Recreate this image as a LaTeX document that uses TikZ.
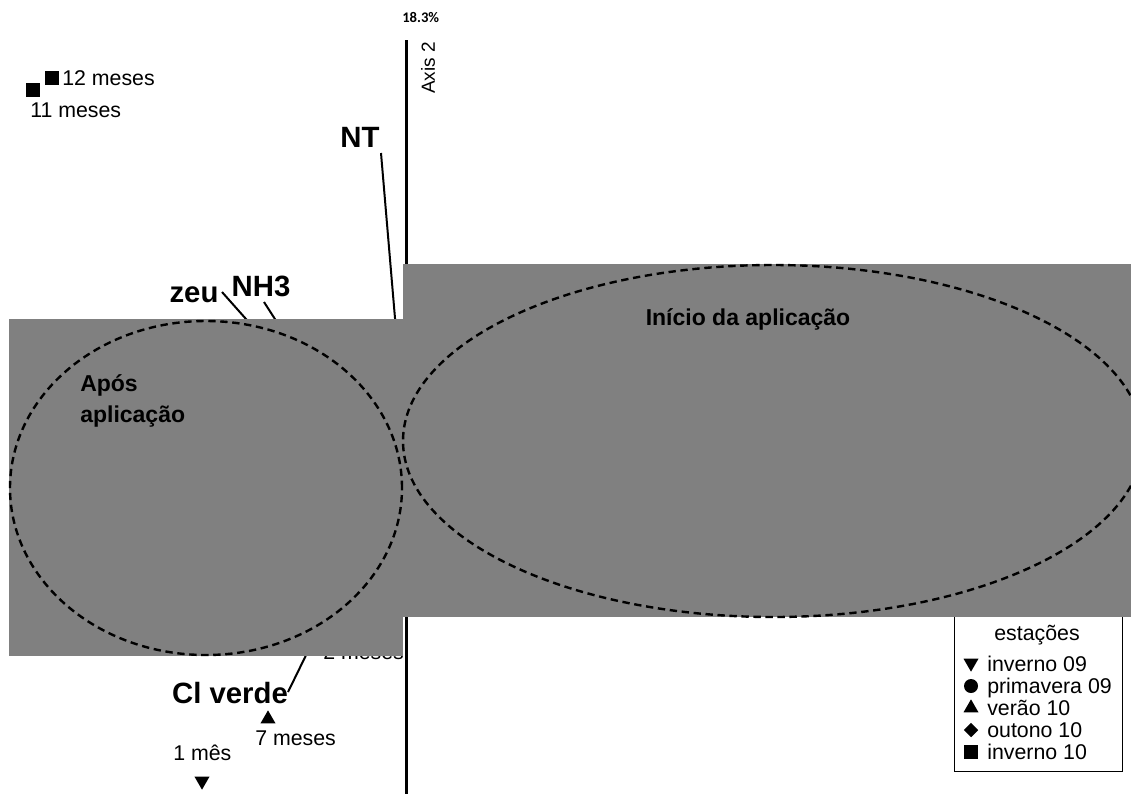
\documentclass[tikz,border=0pt]{standalone}
\usepackage{fontspec}
\setmainfont{Liberation Sans}
\newfontfamily\carl{Carlito}
\usetikzlibrary{shapes.geometric}
\definecolor{bg}{RGB}{128,128,128}
\begin{document}
\begin{tikzpicture}[x=0.75pt,y=-0.75pt,
 reg/.style={font=\fontsize{16}{18}\selectfont, inner sep=0pt},
 lbl/.style={font=\bfseries\fontsize{22}{26}\selectfont, inner sep=0pt},
 grp/.style={font=\bfseries\fontsize{17.25}{20}\selectfont, inner sep=0pt},
 conn/.style={line width=1.5pt},
 ell/.style={dash pattern=on 5.5pt off 3.5pt, line width=1.8pt},
 sq/.style={fill=black, inner sep=0pt, minimum size=10.5pt},
 tri/.style={regular polygon, regular polygon sides=3, fill=black, inner sep=0pt, minimum size=13pt},
 trid/.style={tri, shape border rotate=180},
 dot/.style={circle, fill=black, inner sep=0pt, minimum size=10.5pt},
 dia/.style={diamond, fill=black, inner sep=0pt, minimum width=11pt, minimum height=11pt},
 panel/.style={fill=bg, draw=none}]
\useasboundingbox (0,0) rectangle (1131,794);
% axis
\coordinate (axT) at (406,40);
\coordinate (axB) at (406,794);
\draw[line width=2.25pt] (axT) -- (axB);
% connectors (ends hidden under the panels)
\coordinate (ntA) at (381,153); \coordinate (ntB) at (396,330);
\coordinate (zeA) at (222,292); \coordinate (zeB) at (254,328);
\coordinate (nhA) at (264,302); \coordinate (nhB) at (282,330);
\coordinate (clA) at (288,692); \coordinate (clB) at (311,645);
\draw[conn] (ntA) -- (ntB);
\draw[conn] (zeA) -- (zeB);
\draw[conn] (nhA) -- (nhB);
\draw[conn] (clA) -- (clB);
% partly hidden label
\node[reg, anchor=base west] (m2) at (323,659) {2 meses};
% legend box
\node[draw, fill=white, line width=0.8pt, minimum width=126pt, minimum height=136.5pt, anchor=south west, inner sep=0pt] (leg) at (954,772) {};
% panels
\fill[panel] (9,319) rectangle (403,656);
\fill[panel] (403,264) rectangle (1131,617);
% ellipses
\draw[ell] (206,488) ellipse [x radius=147pt, y radius=125.25pt];
\draw[ell] (773,441) ellipse [x radius=277.5pt, y radius=132pt];
% group labels
\node[grp, anchor=base] (ini) at (748,325) {Início da aplicação};
\node[grp, anchor=base west] (apo1) at (80,391) {Após};
\node[grp, anchor=base west] (apo2) at (80,422) {aplicação};
% variable labels
\node[lbl, anchor=base] (nt) at (360,147) {NT};
\node[lbl, anchor=base] (zeu) at (194,302) {zeu};
\node[lbl, anchor=base] (nh3) at (261,296) {NH3};
\node[lbl, anchor=base] (cl) at (230,703) {Cl verde};
% axis labels
\node[font=\carl\bfseries\fontsize{11}{13}\selectfont, anchor=base west, inner sep=0pt] (pct) at (402,22) {18.3\%};
\node[font=\fontsize{14.25}{16}\selectfont, rotate=90, inner sep=0pt] (axl) at (428,68) {Axis 2};
% points
\node[sq] (p11) at (33,90) {};
\node[sq] (p12) at (52,78) {};
\node[reg, anchor=base west] (t12) at (62,85) {12 meses};
\node[reg, anchor=base west] (t11) at (30,117) {11 meses};
\node[tri] (p7) at (268,719) {};
\node[reg, anchor=base west] (t7) at (255,745) {7 meses};
\node[reg, anchor=base west] (t1) at (173,760) {1 mês};
\node[trid] (p1) at (202,781) {};
% legend entries
\node[reg, anchor=base] (lt) at (1037,640) {estações};
\node[trid] (s1) at (971,663) {};
\node[reg, anchor=base west] (l1) at (987,671) {inverno 09};
\node[dot] (s2) at (971,686) {};
\node[reg, anchor=base west] (l2) at (987,693) {primavera 09};
\node[tri] (s3) at (971,708) {};
\node[reg, anchor=base west] (l3) at (987,715) {verão 10};
\node[dia] (s4) at (971,730) {};
\node[reg, anchor=base west] (l4) at (987,737) {outono 10};
\node[sq] (s5) at (971,752) {};
\node[reg, anchor=base west] (l5) at (987,759) {inverno 10};
\end{tikzpicture}
\end{document}
